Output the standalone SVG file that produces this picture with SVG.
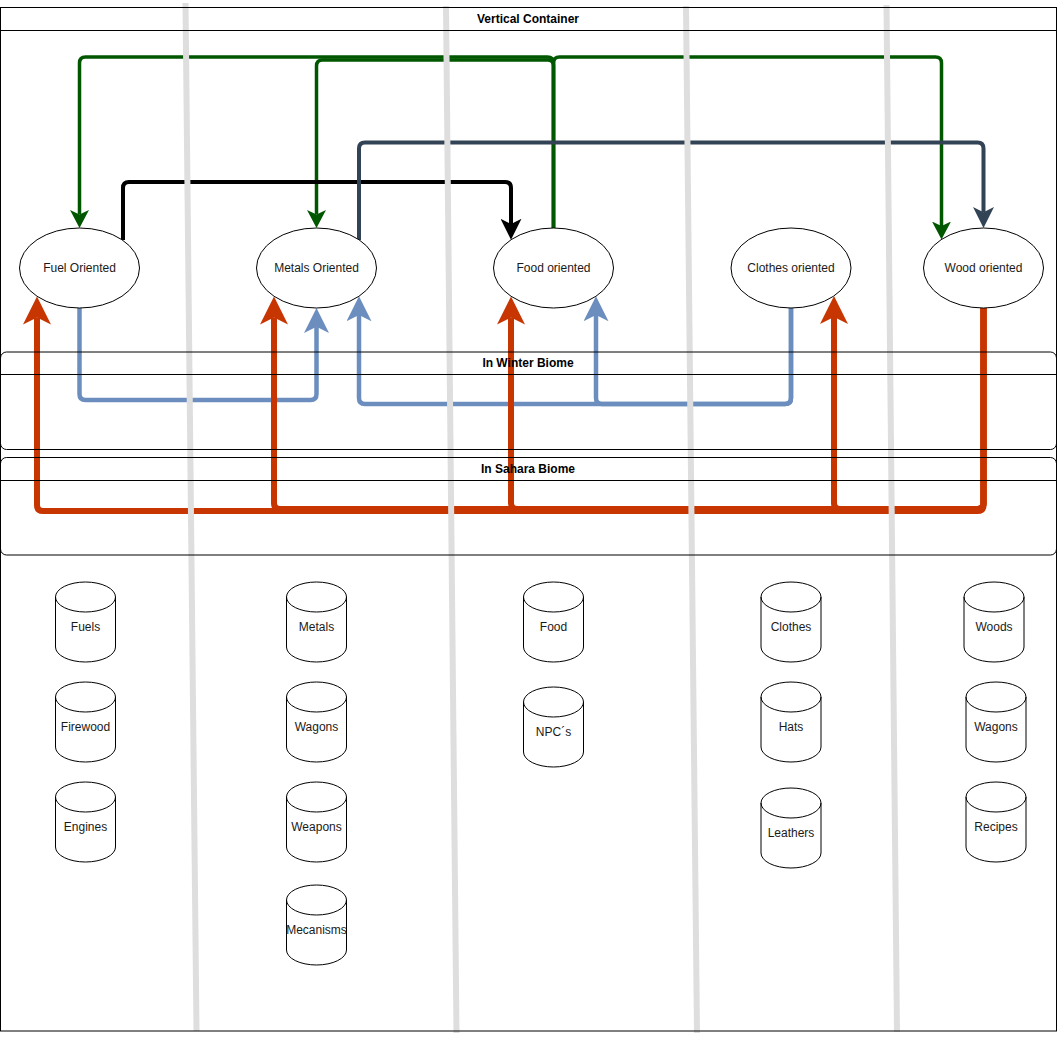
<svg xmlns="http://www.w3.org/2000/svg" width="1058" height="1044" viewBox="0 0 1058 1044">
<style>
  text { font-family: "Liberation Sans", Arial, Helvetica, sans-serif; font-size: 12px; fill: #1a1a1a; text-anchor: middle; }
  .title { font-weight: bold; fill: #000; }
  .box { fill: none; stroke: #000; stroke-width: 1; }
  .node { fill: #fff; stroke: #000; stroke-width: 1; }
  .edge { fill: none; stroke-linejoin: round; }
  .green { stroke: #005700; stroke-width: 3.5; }
  .black { stroke: #000; stroke-width: 4; }
  .slate { stroke: #314354; stroke-width: 4; }
  .blue { stroke: #6c8ebf; stroke-width: 4.5; }
  .red { stroke: #c73500; stroke-width: 6; }
  .lane { stroke: #dedede; stroke-width: 6; fill: none; }
</style>
<defs>
  <marker id="aGreen" markerUnits="userSpaceOnUse" viewBox="0 0 18 19" markerWidth="18" markerHeight="19" refX="4.5" refY="9.5" orient="auto">
    <path d="M0,0 L18,9.5 L0,19 L4.5,9.5 Z" fill="#005700"/>
  </marker>
  <marker id="aBlack" markerUnits="userSpaceOnUse" viewBox="0 0 21 21" markerWidth="21" markerHeight="21" refX="5.25" refY="10.5" orient="auto">
    <path d="M0,0 L21,10.5 L0,21 L5.25,10.5 Z" fill="#000"/>
  </marker>
  <marker id="aSlate" markerUnits="userSpaceOnUse" viewBox="0 0 21 21" markerWidth="21" markerHeight="21" refX="5.25" refY="10.5" orient="auto">
    <path d="M0,0 L21,10.5 L0,21 L5.25,10.5 Z" fill="#314354"/>
  </marker>
  <marker id="aBlue" markerUnits="userSpaceOnUse" viewBox="0 0 25 25" markerWidth="25" markerHeight="25" refX="6.25" refY="12.5" orient="auto">
    <path d="M0,0 L25,12.5 L0,25 L6.25,12.5 Z" fill="#6c8ebf"/>
  </marker>
  <marker id="aRed" markerUnits="userSpaceOnUse" viewBox="0 0 28 28" markerWidth="28" markerHeight="28" refX="7" refY="14" orient="auto">
    <path d="M0,0 L28,14 L0,28 L7,14 Z" fill="#c73500"/>
  </marker>
  <g id="cyl">
    <path d="M0,15 A30,15 0 0 1 60,15 V65 A30,15 0 0 1 0,65 Z" class="node"/>
    <path d="M0,15 A30,15 0 0 0 60,15" fill="none" stroke="#000" stroke-width="1"/>
  </g>
</defs>

<!-- outer container background -->
<rect x="0.5" y="7.5" width="1056" height="1023.5" fill="#fff"/>

<g id="connectors">
  <path class="edge green" marker-end="url(#aGreen)" d="M553.5,228 V63 Q553.5,57 547.5,57 H85.5 Q79.5,57 79.5,63 V214.5"/>
  <path class="edge green" marker-end="url(#aGreen)" d="M553.5,228 V66 Q553.5,60 547.5,60 H322.5 Q316.5,60 316.5,66 V214.5"/>
  <path class="edge green" marker-end="url(#aGreen)" d="M553.5,228 V63 Q553.5,57 559.5,57 H935.5 Q941.5,57 941.5,63 V226"/>
  <path class="edge black" marker-end="url(#aBlack)" d="M123,240 V188 Q123,182 129,182 H505 Q511,182 511,188 V224"/>
  <path class="edge slate" marker-end="url(#aSlate)" d="M359,240 V148.5 Q359,142.5 365,142.5 H977.5 Q983.5,142.5 983.5,148.5 V212.25"/>
  <path class="edge blue" marker-end="url(#aBlue)" d="M79.5,308 V394 Q79.5,400 85.5,400 H310.5 Q316.5,400 316.5,394 V326.75"/>
  <path class="edge blue" marker-end="url(#aBlue)" d="M791,308 V398 Q791,404 785,404 H602 Q596,404 596,398 V315"/>
  <path class="edge blue" marker-end="url(#aBlue)" d="M791,308 V398 Q791,404 785,404 H365 Q359,404 359,398 V315"/>
  <path class="edge red" marker-end="url(#aRed)" d="M983.5,308 V505 Q983.5,511 977.5,511 H43 Q37,511 37,505 V317.5"/>
  <path class="edge red" marker-end="url(#aRed)" d="M983.5,308 V503 Q983.5,509 977.5,509 H280 Q274,509 274,503 V317.5"/>
  <path class="edge red" marker-end="url(#aRed)" d="M983.5,308 V503 Q983.5,509 977.5,509 H517 Q511,509 511,503 V317.5"/>
  <path class="edge red" marker-end="url(#aRed)" d="M983.5,308 V503 Q983.5,509 977.5,509 H840 Q834,509 834,503 V317"/>
</g>

<g id="lane-separators">
  <line class="lane" x1="185.5" y1="3" x2="196.5" y2="1031"/>
  <line class="lane" x1="446" y1="6" x2="456.5" y2="1033"/>
  <line class="lane" x1="686" y1="6" x2="697" y2="1033"/>
  <line class="lane" x1="886.5" y1="5" x2="897" y2="1032"/>
</g>

<g id="vertical-container">
  <rect class="box" x="0.5" y="7.5" width="1056" height="1023.5"/>
  <line class="box" x1="0.5" y1="30.5" x2="1056.5" y2="30.5"/>
  <text class="title" x="528" y="23">Vertical Container</text>
</g>

<g id="winter-biome">
  <rect class="box" x="0.5" y="352" width="1056" height="97.5" rx="6" ry="6"/>
  <line class="box" x1="0.5" y1="374.5" x2="1056.5" y2="374.5"/>
  <text class="title" x="528" y="366.5">In Winter Biome</text>
</g>

<g id="sahara-biome">
  <rect class="box" x="0.5" y="457.5" width="1056" height="97.5" rx="6" ry="6"/>
  <line class="box" x1="0.5" y1="480.5" x2="1056.5" y2="480.5"/>
  <text class="title" x="528" y="473">In Sahara Biome</text>
</g>

<g id="fuel-oriented"><ellipse class="node" cx="79.5" cy="268" rx="60" ry="40"/><text x="79.5" y="272">Fuel Oriented</text></g>
<g id="metals-oriented"><ellipse class="node" cx="316.5" cy="268" rx="60" ry="40"/><text x="316.5" y="272">Metals Oriented</text></g>
<g id="food-oriented"><ellipse class="node" cx="553.5" cy="268" rx="60" ry="40"/><text x="553.5" y="272">Food oriented</text></g>
<g id="clothes-oriented"><ellipse class="node" cx="791" cy="268" rx="60" ry="40"/><text x="791" y="272">Clothes oriented</text></g>
<g id="wood-oriented"><ellipse class="node" cx="983.5" cy="268" rx="60" ry="40"/><text x="983.5" y="272">Wood oriented</text></g>

<g id="fuels" transform="translate(55.5,582)"><use href="#cyl"/><text x="30" y="49">Fuels</text></g>
<g id="firewood" transform="translate(55.5,682)"><use href="#cyl"/><text x="30" y="49">Firewood</text></g>
<g id="engines" transform="translate(55.5,782)"><use href="#cyl"/><text x="30" y="49">Engines</text></g>

<g id="metals" transform="translate(286.5,582)"><use href="#cyl"/><text x="30" y="49">Metals</text></g>
<g id="wagons-metal" transform="translate(286.5,682)"><use href="#cyl"/><text x="30" y="49">Wagons</text></g>
<g id="weapons" transform="translate(286.5,782)"><use href="#cyl"/><text x="30" y="49">Weapons</text></g>
<g id="mecanisms" transform="translate(286.5,885)"><use href="#cyl"/><text x="30" y="49">Mecanisms</text></g>

<g id="food" transform="translate(523.5,582)"><use href="#cyl"/><text x="30" y="49">Food</text></g>
<g id="npcs" transform="translate(523.5,687)"><use href="#cyl"/><text x="30" y="49">NPC´s</text></g>

<g id="clothes" transform="translate(761,582)"><use href="#cyl"/><text x="30" y="49">Clothes</text></g>
<g id="hats" transform="translate(761,682)"><use href="#cyl"/><text x="30" y="49">Hats</text></g>
<g id="leathers" transform="translate(761,788)"><use href="#cyl"/><text x="30" y="49">Leathers</text></g>

<g id="woods" transform="translate(964,582)"><use href="#cyl"/><text x="30" y="49">Woods</text></g>
<g id="wagons-wood" transform="translate(966,682)"><use href="#cyl"/><text x="30" y="49">Wagons</text></g>
<g id="recipes" transform="translate(966,782)"><use href="#cyl"/><text x="30" y="49">Recipes</text></g>
</svg>
